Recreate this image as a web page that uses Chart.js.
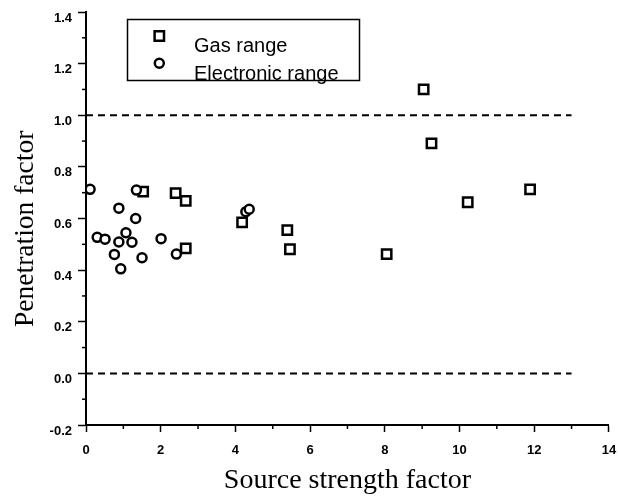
<!DOCTYPE html>
<html>
<head>
<meta charset="utf-8">
<script src="https://cdn.jsdelivr.net/npm/chart.js@4.4.1/dist/chart.umd.min.js"></script>
<style>
html,body{margin:0;padding:0;background:#fff;}
#wrap{width:618px;height:503px;}
</style>
</head>
<body>
<div id="wrap"><canvas id="c" width="618" height="503"></canvas></div>
<script>
// ---- data ----
const gasX  = [1.53, 2.40, 2.67, 2.67, 4.18, 5.39, 5.46, 8.05, 9.04, 9.25, 10.22, 11.89];
const gasY  = [0.704, 0.698, 0.668, 0.484, 0.585, 0.555, 0.481, 0.462, 1.10, 0.891, 0.663, 0.713];
const elecX = [0.11, 0.30, 0.51, 0.88, 1.35, 1.33, 1.07, 0.88, 1.23, 0.76, 0.93, 1.50, 2.01, 2.42, 4.28, 4.37];
const elecY = [0.713, 0.527, 0.520, 0.640, 0.710, 0.600, 0.545, 0.509, 0.508, 0.461, 0.405, 0.448, 0.522, 0.462, 0.626, 0.636];
const seriesNames = ["Gas range", "Electronic range"];
const refLevels = [1.0, 0.0];
const refLineEndX = 13;
const xTickValues = [0, 2, 4, 6, 8, 10, 12, 14];
const yTickValues = [-0.2, 0.0, 0.2, 0.4, 0.6, 0.8, 1.0, 1.2, 1.4];
const xTitle = "Source strength factor";
const yTitle = "Penetration factor";

const toPts = (xs, ys) => xs.map((x, i) => ({x: x, y: ys[i]}));

const datasets = [
  {label: seriesNames[1], data: toPts(elecX, elecY), pointStyle: 'circle', pointRadius: 4.5,
   pointBorderWidth: 2.5, borderColor: '#000', backgroundColor: '#fff', order: 0},
  {label: seriesNames[0], data: toPts(gasX, gasY), pointStyle: 'rect', pointRadius: 6.6,
   pointBorderWidth: 2.5, borderColor: '#000', backgroundColor: '#fff', order: 1}
];
refLevels.forEach(v => datasets.push({
  label: 'ref', data: [{x: 0, y: v}, {x: refLineEndX, y: v}], showLine: true,
  pointRadius: 0, borderColor: '#000', borderWidth: 2, borderDash: [7, 5], order: 2
}));

const minorTicks = {
  id: 'minorTicks',
  afterDraw(chart) {
    const ctx = chart.ctx, xs = chart.scales.x, ys = chart.scales.y;
    ctx.save();
    ctx.strokeStyle = '#000';
    ctx.lineWidth = 1.5;
    for (let i = 0; i < yTickValues.length - 1; i++) {
      const v = (yTickValues[i] + yTickValues[i + 1]) / 2;
      const py = ys.getPixelForValue(v);
      ctx.beginPath(); ctx.moveTo(xs.left - 4, py); ctx.lineTo(xs.left, py); ctx.stroke();
    }
    for (let i = 0; i < xTickValues.length - 1; i++) {
      const v = (xTickValues[i] + xTickValues[i + 1]) / 2;
      const px = xs.getPixelForValue(v);
      ctx.beginPath(); ctx.moveTo(px, ys.bottom); ctx.lineTo(px, ys.bottom + 4); ctx.stroke();
    }
    ctx.restore();
  }
};

const boxLegend = {
  id: 'boxLegend',
  afterDraw(chart) {
    const ctx = chart.ctx;
    ctx.save();
    ctx.strokeStyle = '#000';
    ctx.lineWidth = 1.5;
    ctx.strokeRect(127.5, 19.5, 232, 61);
    ctx.lineWidth = 2.5;
    ctx.fillStyle = '#fff';
    ctx.beginPath(); ctx.rect(159.3 - 4.7, 36 - 4.7, 9.4, 9.4); ctx.fill(); ctx.stroke();
    ctx.beginPath(); ctx.arc(159.3, 63.3, 4.5, 0, Math.PI * 2); ctx.fill(); ctx.stroke();
    ctx.fillStyle = '#000';
    ctx.font = '20px "Liberation Sans", Arial, sans-serif';
    ctx.textBaseline = 'alphabetic';
    ctx.textAlign = 'left';
    ctx.fillText(seriesNames[0], 194, 51.5);
    ctx.fillText(seriesNames[1], 194, 80);
    ctx.restore();
  }
};

Chart.defaults.font.family = '"Liberation Sans", Arial, sans-serif';
Chart.defaults.color = '#000';

new Chart(document.getElementById('c'), {
  type: 'scatter',
  data: {datasets: datasets},
  options: {
    responsive: false,
    animation: false,
    devicePixelRatio: 1,
    layout: {padding: {left: 0, right: 7, top: 12, bottom: 0}},
    plugins: {legend: {display: false}, tooltip: {enabled: false}},
    scales: {
      x: {
        type: 'linear', min: 0, max: 14,
        afterFit(s) { s.height = 78; s.paddingLeft = 0; s.paddingRight = 0; },
        afterBuildTicks(s) { s.ticks = xTickValues.map(v => ({value: v})); },
        border: {display: true, color: '#000', width: 2},
        grid: {display: true, drawOnChartArea: false, drawTicks: true, tickLength: 7, tickColor: '#000', tickWidth: 1.5},
        ticks: {font: {size: 13, weight: 'bold'}, color: '#000', padding: 11, maxRotation: 0,
                callback: v => String(v)},
        title: {display: true, text: xTitle, color: '#000',
                font: {family: '"Liberation Serif", "Times New Roman", serif', size: 28, weight: 'normal'},
                padding: {top: 0, bottom: 6}}
      },
      y: {
        type: 'linear', min: -0.2, max: 1.4,
        afterFit(s) { s.width = 86; s.paddingTop = 0; s.paddingBottom = 0; },
        afterBuildTicks(s) { s.ticks = yTickValues.map(v => ({value: v})); },
        border: {display: true, color: '#000', width: 2},
        grid: {display: true, drawOnChartArea: false, drawTicks: true, tickLength: 8, tickColor: '#000', tickWidth: 1.5},
        ticks: {font: {size: 13, weight: 'bold'}, color: '#000', padding: 6, labelOffset: 6,
                callback: v => Number(v).toFixed(1)},
        title: {display: true, text: yTitle + '   ', color: '#000',
                font: {family: '"Liberation Serif", "Times New Roman", serif', size: 27.5, weight: 'normal'},
                padding: {top: 9, bottom: 0}}
      }
    }
  },
  plugins: [minorTicks, boxLegend]
});
</script>
</body>
</html>
